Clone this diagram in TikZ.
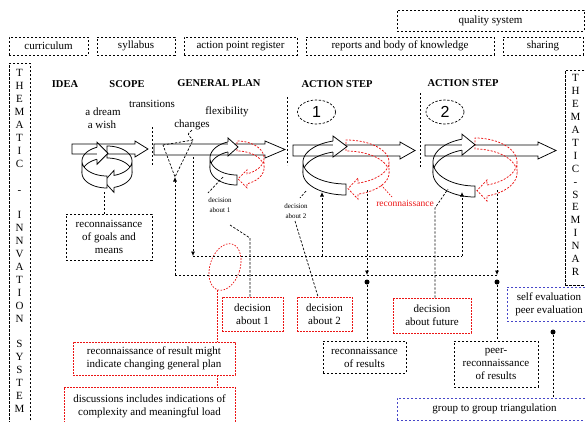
\documentclass[tikz,border=0pt]{standalone}
\usepackage{fontspec}
\setmainfont{Liberation Serif}
\newfontfamily\digitfont{Liberation Sans}
\usetikzlibrary{shapes.geometric,arrows.meta}
\definecolor{evblue}{RGB}{70,70,200}
\definecolor{rd}{RGB}{235,20,20}
\tikzset{
 dl/.style={draw=black, line width=0.7pt, dash pattern=on 2.4pt off 1.6pt},
 rdl/.style={draw=rd, line width=0.7pt, dash pattern=on 1.6pt off 1.4pt},
 bbox/.style={dl, rectangle, inner sep=0pt, align=center, font=\fontsize{11}{13}\selectfont},
 rbox/.style={bbox, rdl},
 ebox/.style={bbox, draw=evblue},
 hdg/.style={font=\bfseries\fontsize{10.5}{12}\selectfont, inner sep=0pt},
 txt/.style={font=\fontsize{11}{13}\selectfont, inner sep=0pt},
 smalltxt/.style={font=\fontsize{7}{10}\selectfont, align=center, inner sep=0pt},
 solidl/.style={draw=black, line width=0.75pt},
 redring/.style={draw=rd, line width=0.75pt, dash pattern=on 2pt off 1.5pt},
 arr/.style={-{Latex[length=4.5pt,width=4pt]}},
 blob/.style={circle, fill=black, inner sep=0pt, minimum size=5pt},
}
% block arrow: x0, ytop, ybottom, head base x, tip x, head overhang
\newcommand{\blockarr}[6]{%
  \draw[solidl, fill=white] (#1,#2) -- (#4,#2) -- (#4,{#2-#6}) -- (#5,{(#2+#3)/2})
     -- (#4,{#3+#6}) -- (#4,#3) -- (#1,#3) -- cycle;}
% left half of a ring ribbon, head at top pointing right
\newcommand{\ringL}[9]{%
  \pgfmathsetmacro{\rgtb}{360-acos((#6)/(#3))}%
  \pgfmathsetmacro{\rgxb}{#1+(#6)}%
  \pgfmathsetmacro{\rgyT}{#2+(#4)*sin(\rgtb)}%
  \pgfmathsetmacro{\rgyB}{\rgyT+#5}%
  \pgfmathsetmacro{\rgym}{(\rgyT+\rgyB)/2}%
  \draw[#9] plot[domain=180:\rgtb,samples=30] ({#1+(#3)*cos(\x)},{#2+(#4)*sin(\x)});
  \draw[#9] plot[domain=180:\rgtb,samples=30] ({#1+(#3)*cos(\x)},{#2+#5+(#4)*sin(\x)});
  \fill[white] (\rgxb,{\rgyT-#8}) -- ({\rgxb+#7},\rgym) -- (\rgxb,{\rgyB+#8}) -- cycle;
  \draw[#9] (\rgxb,\rgyT) -- (\rgxb,{\rgyT-#8}) -- ({\rgxb+#7},\rgym) -- (\rgxb,{\rgyB+#8}) -- (\rgxb,\rgyB);
  \draw[#9,fill=white] plot[domain=90:180,samples=30] ({#1+(#3)*cos(\x)},{#2+(#4)*sin(\x)})
     -- plot[domain=180:90,samples=30] ({#1+(#3)*cos(\x)},{#2+#5+(#4)*sin(\x)}) -- cycle;
}
% right half of a ring ribbon, head at bottom pointing left
\newcommand{\ringR}[9]{%
  \pgfmathsetmacro{\rgtb}{acos((#6)/(#3))}%
  \pgfmathsetmacro{\rgxb}{#1+(#6)}%
  \pgfmathsetmacro{\rgyT}{#2+(#4)*sin(\rgtb)}%
  \pgfmathsetmacro{\rgyB}{\rgyT+#5}%
  \pgfmathsetmacro{\rgym}{(\rgyT+\rgyB)/2}%
  \draw[#9] plot[domain=360:270,samples=30] ({#1+(#3)*cos(\x)},{#2+#5+(#4)*sin(\x)})
     -- plot[domain=270:360,samples=30] ({#1+(#3)*cos(\x)},{#2+(#4)*sin(\x)});
  \draw[#9,fill=white] plot[domain=0:\rgtb,samples=30] ({#1+(#3)*cos(\x)},{#2+(#4)*sin(\x)})
     -- (\rgxb,{\rgyT-#8}) -- ({\rgxb-#7},\rgym) -- (\rgxb,{\rgyB+#8}) -- (\rgxb,\rgyB)
     -- plot[domain=\rgtb:0,samples=30] ({#1+(#3)*cos(\x)},{#2+#5+(#4)*sin(\x)}) -- cycle;
}
\begin{document}
\begin{tikzpicture}[x=1pt,y=-1pt]
\useasboundingbox (0,0) rectangle (585,421);

% top boxes
\node[bbox, minimum width=79, minimum height=18] (curr) at (48.5,46) {curriculum};
\node[bbox, minimum width=78, minimum height=18] (syll) at (136,46) {syllabus};
\node[bbox, minimum width=113, minimum height=18] (apr) at (240.5,46) {action point register};
\node[bbox, minimum width=187, minimum height=21] (qual) at (490.5,20.5) {quality system};
\node[bbox, minimum width=188, minimum height=18] (rep) at (400,46) {reports and body of knowledge};
\node[bbox, minimum width=80, minimum height=18] (shar) at (543,46) {sharing};

% side boxes
\node[dl, minimum width=21, minimum height=380, anchor=north, inner sep=0pt] (lsys) at (19.5,63) {};
\node[txt, align=center, anchor=north, font=\fontsize{11}{12.9}\selectfont] (ltxt) at (19.5,69.5)
 {T\\H\\E\\M\\A\\T\\I\\C\\[12.9pt]-\\[12.9pt]I\\N\\N\\V\\A\\T\\I\\O\\N\\[12.9pt]S\\Y\\S\\T\\E\\M};
\node[dl, minimum width=24, minimum height=215, anchor=north west, inner sep=0pt] (rsem) at (565,70) {};
\node[txt, align=center, anchor=north, font=\fontsize{11}{12.9}\selectfont] (rtxt) at (575.5,74.5)
 {T\\H\\E\\M\\A\\T\\I\\C\\-\\S\\E\\M\\I\\N\\A\\R};

% headings
\node[hdg] (idea) at (65,84) {IDEA};
\node[hdg] (scope) at (127,84) {SCOPE};
\node[hdg] (gplan) at (219,83) {GENERAL PLAN};
\node[hdg] (as1) at (337,84) {ACTION STEP};
\node[hdg] (as2) at (463,83) {ACTION STEP};

% texts
\node[txt] (dream) at (103,112) {a dream};
\node[txt] (wish) at (102,125) {a wish};
\node[txt] (trans) at (152,104) {transitions};
\node[txt] (flex) at (227,112) {flexibility};
\node[txt] (chg) at (192,125) {changes};

% separators
\draw[dl] (152,127) -- (152,165);
\draw[dl] (287,97) -- (287,165);
\draw[dl] (420,93) -- (420,168);

% step circles
\node[dl, ellipse, minimum width=38, minimum height=24, inner sep=0pt, font=\digitfont\fontsize{16}{16}\selectfont] (s1) at (316.5,112) {1};
\node[dl, ellipse, minimum width=38, minimum height=24, inner sep=0pt, font=\digitfont\fontsize{16}{16}\selectfont] (s2) at (445,112) {2};

% block arrows
\blockarr{72}{144}{154}{135}{148}{3}
\blockarr{154}{144}{155}{265}{285}{3}
\blockarr{293}{145}{156}{400}{415}{3}
\blockarr{425}{145}{156}{538}{556}{3}

% rings
\ringR{107}{161}{25}{15}{12}{7}{10}{5}{solidl}
\ringL{107}{161}{25}{15}{12}{-10}{11}{5}{solidl}
\ringR{237}{158}{27}{17}{10}{10}{9}{4}{redring}
\ringL{237}{158}{27}{17}{10}{-9}{10}{4}{solidl}
\ringR{346}{162}{43}{22}{11}{12}{10}{5}{redring}
\ringL{346}{162}{43}{22}{11}{-13}{14}{5}{solidl}
\ringR{475}{162}{42}{24}{11}{12}{10}{5}{redring}
\ringL{475}{162}{42}{24}{11}{-13}{13}{5}{solidl}

% labels
\node[smalltxt] (dl1) at (220,205.5) {decision\\about 1};
\node[smalltxt] (dl2) at (296,211) {decision\\about 2};
\node[txt, text=rd, font=\fontsize{9.5}{11}\selectfont] (recl) at (405,203) {reconnaissance};

% boxes
\node[bbox, minimum width=86, minimum height=46] (goals) at (109,237) {reconnaissance\\of goals and\\means};
\node[rbox, minimum width=61, minimum height=34] (dec1) at (252.5,314) {decision\\about 1};
\node[rbox, minimum width=55, minimum height=34] (dec2) at (324.5,314) {decision\\about 2};
\node[rbox, minimum width=78, minimum height=35] (dec3) at (432,315.5) {decision\\about future};
\node[ebox, minimum width=84, minimum height=34] (selfev) at (549,304) {self evaluation\\peer evaluation};
\node[bbox, minimum width=83, minimum height=32] (recres) at (364.5,357) {reconnaissance\\of results};
\node[bbox, minimum width=84, minimum height=46] (peer) at (496,364) {peer-\\reconnaissance\\of results};
\node[ebox, minimum width=195, minimum height=22] (grp) at (494.5,409) {group to group triangulation};
\node[rbox, minimum width=162, minimum height=33] (rplan) at (154,358.5) {reconnaissance of result might\\indicate changing general plan};
\node[rbox, minimum width=171, minimum height=38] (disc) at (149.5,406) {discussions includes indications of\\complexity and meaningful load};
\node[rdl, ellipse, minimum width=30, minimum height=48, rotate=-18, inner sep=0pt] (rell) at (225,267) {};

% goals connector
\coordinate (aB) at (104,192);
\draw[dl] (aB) -- (aB |- goals.north);

% changes triangle
\coordinate (t1) at (163,145);
\coordinate (t2) at (193,140);
\coordinate (t3) at (175,177);
\draw[dl] (t1) -- (t2) -- (t3) -- cycle;
\draw[dl] (chg.south) .. controls (187,134) .. (t2);

% loop 1
\coordinate (f1) at (193,157);
\coordinate (f2) at (193,256);
\coordinate (f3) at (322,256);
\coordinate (f4) at (462,256);
\coordinate (f3t) at (322,192);
\coordinate (f4t) at (462,192);
\draw[dl,arr] (f1) -- (f2);
\draw[dl] (f2) -- (f4);
\draw[dl,arr] (f3) -- (f3t);
\draw[dl,arr] (f4) -- (f4t);

% loop 2
\coordinate (g1) at (175,275);
\coordinate (g2) at (367,190);
\coordinate (g2b) at (367,275);
\coordinate (g3) at (497,190);
\coordinate (g3b) at (497,275);
\draw[dl,arr] (g1) -- (t3);
\draw[dl] (g1) -- (g3b);
\draw[dl,arr] (g2) -- (g2b);
\draw[dl,arr] (g3) -- (g3b);

\node[blob] (dot1) at (367,282) {};
\node[blob] (dot2) at (497,282) {};
\node[blob] (dot3) at (553,332) {};
\draw[dl] (dot1) -- (dot1 |- recres.north);
\draw[dl] (dot2) -- (dot2 |- peer.north);
\draw[dl] (dot3) -- (dot3 |- grp.north);

% decision about 1
\coordinate (c1a) at (223,177);
\coordinate (c1b) at (208,193);
\coordinate (c1c) at (230,225);
\coordinate (c1d) at (250,238);
\draw[dl] (c1a) -- (c1b);
\draw[dl] (c1c) -- (c1d) -- (c1d |- dec1.north);

% decision about 2
\coordinate (c2a) at (306,191);
\coordinate (c2b) at (300,198);
\coordinate (c2c) at (295,221);
\draw[dl] (c2a) -- (c2b);
\draw[dl] (c2c) -- ([xshift=-6.5pt]dec2.north);

% decision about future
\coordinate (c3b) at (435,208);
\coordinate (c3c) at (448,189);
\draw[dl] ([xshift=3pt]dec3.north) -- (c3b) -- (c3c);

% red connectors
\coordinate (rr1) at (381,185);
\coordinate (rr2) at (392,197);
\draw[rdl] (rr1) -- (rr2);
\draw[rdl] (rell.south) -- (rell.south |- rplan.north);
\draw[rdl] (rplan.south -| rell.south) -- (disc.north -| rell.south);
\end{tikzpicture}
\end{document}
